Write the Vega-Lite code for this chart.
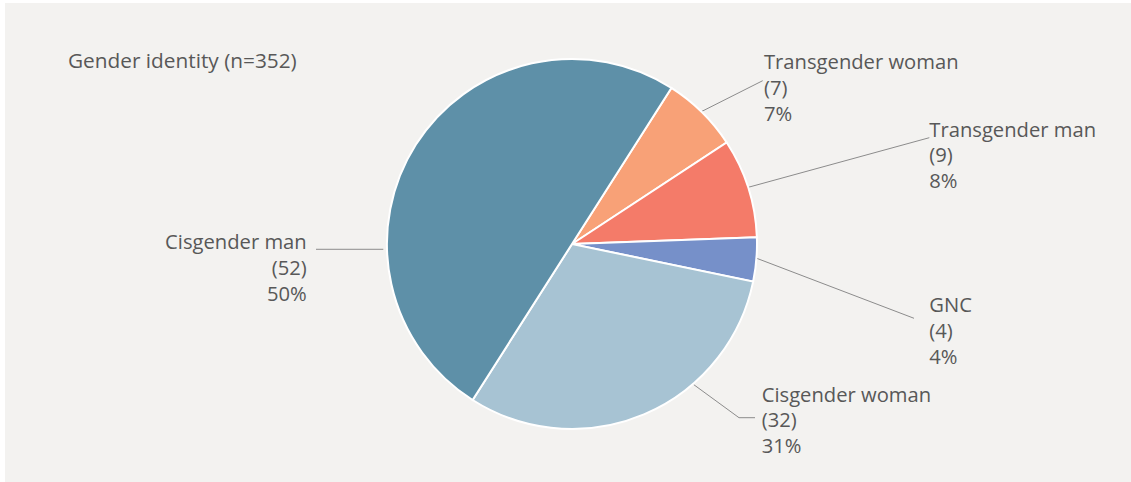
{
  "$schema": "https://vega.github.io/schema/vega-lite/v6.json",
  "width": 1126,
  "height": 479,
  "autosize": {"type": "none"},
  "padding": {"left": 5, "top": 3, "right": 0, "bottom": 0},
  "background": "#ffffff",
  "view": {"fill": "#f3f2f0", "stroke": null},
  "title": {
    "text": "Gender identity (n=352)",
    "anchor": "start",
    "frame": "group",
    "baseline": "alphabetic",
    "offset": 0,
    "dx": 63,
    "dy": 86,
    "font": "Open Sans",
    "fontSize": 20.8,
    "fontWeight": "normal",
    "color": "#585858",
    "limit": 0
  },
  "datasets": {
    "slices": [
      {"group": "Transgender woman", "count": 7, "label": "Transgender woman\n(7)\n7%", "lx": 1.0378, "ly": 0.9443},
      {"group": "Transgender man", "count": 9, "label": "Transgender man\n(9)\n8%", "lx": 1.9314, "ly": 0.58},
      {"group": "GNC", "count": 4, "label": "GNC\n(4)\n4%", "lx": 1.9314, "ly": -0.3692},
      {"group": "Cisgender woman", "count": 32, "label": "Cisgender woman\n(32)\n31%", "lx": 1.0254, "ly": -0.8524},
      {"group": "Cisgender man", "count": 52, "label": "Cisgender man\n(52)\n50%", "lx": -1.4341, "ly": -0.0286}
    ],
    "leaders": [
      {"group": "Transgender woman", "seq": 1, "lx": 0.6919, "ly": 0.7119},
      {"group": "Transgender woman", "seq": 2, "lx": 1.0308, "ly": 0.8827},
      {"group": "Transgender man", "seq": 1, "lx": 0.953, "ly": 0.3065},
      {"group": "Transgender man", "seq": 2, "lx": 1.9314, "ly": 0.5746},
      {"group": "GNC", "seq": 1, "lx": 0.9984, "ly": -0.0773},
      {"group": "GNC", "seq": 2, "lx": 1.8486, "ly": -0.4016},
      {"group": "Cisgender woman", "seq": 1, "lx": 0.6557, "ly": -0.7584},
      {"group": "Cisgender woman", "seq": 2, "lx": 0.9027, "ly": -0.9389},
      {"group": "Cisgender woman", "seq": 3, "lx": 0.9892, "ly": -0.9389},
      {"group": "Cisgender man", "seq": 1, "lx": -1.3838, "ly": -0.0286},
      {"group": "Cisgender man", "seq": 2, "lx": -1.02, "ly": -0.0286}
    ]
  },
  "layer": [
    {
      "data": {"name": "leaders"},
      "mark": {"type": "line", "color": "#8c8c8c", "strokeWidth": 1},
      "encoding": {
        "x": {"field": "lx", "type": "quantitative", "axis": null, "scale": {"domain": [-3.0649, 3.0216], "nice": false, "zero": false}},
        "y": {"field": "ly", "type": "quantitative", "axis": null, "scale": {"domain": [-1.2865, 1.3027], "nice": false, "zero": false}},
        "detail": {"field": "group"},
        "order": {"field": "seq"}
      }
    },
    {
      "data": {"name": "slices"},
      "mark": {"type": "arc", "outerRadius": 185, "stroke": "#ffffff", "strokeWidth": 2},
      "encoding": {
        "x": {"datum": 0, "type": "quantitative", "axis": null, "scale": {"domain": [-3.0649, 3.0216], "nice": false, "zero": false}},
        "y": {"datum": 0, "type": "quantitative", "axis": null, "scale": {"domain": [-1.2865, 1.3027], "nice": false, "zero": false}},
        "theta": {"field": "count", "type": "quantitative", "stack": true, "scale": {"range": [0.5672, 6.8504]}},
        "order": {"field": "group", "sort": "descending"},
        "color": {
          "field": "group",
          "type": "nominal",
          "legend": null,
          "scale": {
            "domain": ["Cisgender man", "Cisgender woman", "GNC", "Transgender man", "Transgender woman"],
            "range": ["#5e90a8", "#a7c3d3", "#7690c9", "#f47b69", "#f8a177"]
          }
        }
      }
    },
    {
      "data": {"name": "slices"},
      "transform": [{"filter": "datum.lx > 0"}],
      "mark": {"type": "text", "align": "left", "baseline": "alphabetic", "lineBreak": "\n", "lineHeight": 25.7, "font": "Open Sans", "fontSize": 20.2, "color": "#585858"},
      "encoding": {
        "x": {"field": "lx", "type": "quantitative", "axis": null, "scale": {"domain": [-3.0649, 3.0216], "nice": false, "zero": false}},
        "y": {"field": "ly", "type": "quantitative", "axis": null, "scale": {"domain": [-1.2865, 1.3027], "nice": false, "zero": false}},
        "text": {"field": "label", "type": "nominal"}
      }
    },
    {
      "data": {"name": "slices"},
      "transform": [{"filter": "datum.lx < 0"}],
      "mark": {"type": "text", "align": "right", "baseline": "alphabetic", "lineBreak": "\n", "lineHeight": 25.7, "font": "Open Sans", "fontSize": 20.2, "color": "#585858"},
      "encoding": {
        "x": {"field": "lx", "type": "quantitative", "axis": null, "scale": {"domain": [-3.0649, 3.0216], "nice": false, "zero": false}},
        "y": {"field": "ly", "type": "quantitative", "axis": null, "scale": {"domain": [-1.2865, 1.3027], "nice": false, "zero": false}},
        "text": {"field": "label", "type": "nominal"}
      }
    }
  ]
}
